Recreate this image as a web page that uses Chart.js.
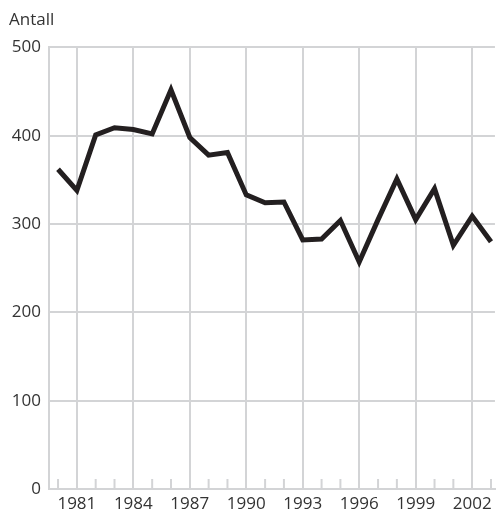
<!DOCTYPE html>
<html>
<head>
<meta charset="utf-8">
<script src="https://cdn.jsdelivr.net/npm/chart.js@4/dist/chart.umd.min.js"></script>
<style>
  body { margin: 0; background: #fff; }
</style>
</head>
<body>
<canvas id="myChart" width="496" height="512"></canvas>
<script>
const years = [1980, 1981, 1982, 1983, 1984, 1985, 1986, 1987, 1988, 1989, 1990, 1991,
  1992, 1993, 1994, 1995, 1996, 1997, 1998, 1999, 2000, 2001, 2002, 2003];
const antall = [362, 338, 401, 409, 407, 402, 452, 398, 378, 381, 333, 324,
  325, 282, 283, 304, 257, 305, 351, 305, 340, 276, 309, 280];
const labelYears = [1981, 1984, 1987, 1990, 1993, 1996, 1999, 2002];
const yTicks = [0, 100, 200, 300, 400, 500];

const gridColor = '#d3d4d6';
const textColor = '#333333';
const font = { family: '"Open Sans", sans-serif', size: 17 };

// short marks for the unlabelled years, drawn upward from the x axis
const minorTicks = {
  id: 'minorTicks',
  afterDatasetsDraw(chart) {
    const ctx = chart.ctx;
    const x = chart.scales.x;
    const bottom = chart.chartArea.bottom;
    ctx.save();
    ctx.strokeStyle = gridColor;
    ctx.lineWidth = 2;
    years.forEach(y => {
      if (labelYears.includes(y)) return;
      const px = x.getPixelForValue(y);
      ctx.beginPath();
      ctx.moveTo(px, bottom);
      ctx.lineTo(px, bottom - 10);
      ctx.stroke();
    });
    ctx.restore();
  }
};

const ctx = document.getElementById('myChart').getContext('2d');
const myChart = new Chart(ctx, {
  type: 'line',
  data: {
    datasets: [{
      data: years.map((y, i) => ({ x: y, y: antall[i] })),
      borderColor: '#231f20',
      borderWidth: 5,
      borderJoinStyle: 'miter',
      pointRadius: 0,
      tension: 0
    }]
  },
  options: {
    responsive: false,
    animation: false,
    layout: { padding: { left: 9, right: 0, top: 0, bottom: 0 } },
    plugins: {
      legend: { display: false },
      tooltip: { enabled: false },
      title: {
        display: true,
        text: 'Antall',
        align: 'start',
        color: textColor,
        font: { family: font.family, size: 17, weight: 'normal' },
        padding: { top: 10, bottom: 17 }
      }
    },
    scales: {
      x: {
        type: 'linear',
        min: 1979.52,
        max: 2003.21,
        afterBuildTicks: scale => {
          scale.ticks = years.map(v => ({ value: v }));
        },
        afterFit: scale => { scale.height = 23; },
        grid: {
          color: c => labelYears.includes(c.tick && c.tick.value) ? gridColor : 'rgba(0,0,0,0)',
          lineWidth: 2,
          drawTicks: false
        },
        border: { color: gridColor, width: 2 },
        ticks: {
          autoSkip: false,
          maxRotation: 0,
          padding: 5,
          color: textColor,
          font: font,
          callback: v => labelYears.includes(v) ? String(v) : ''
        }
      },
      y: {
        min: 0,
        max: 500,
        afterBuildTicks: scale => {
          scale.ticks = yTicks.map(v => ({ value: v }));
        },
        afterFit: scale => { scale.width = 40; },
        grid: { color: gridColor, lineWidth: 2, drawTicks: false },
        border: { color: gridColor, width: 2 },
        ticks: {
          padding: 8,
          color: textColor,
          font: font
        }
      }
    }
  },
  plugins: [minorTicks]
});
</script>
</body>
</html>
